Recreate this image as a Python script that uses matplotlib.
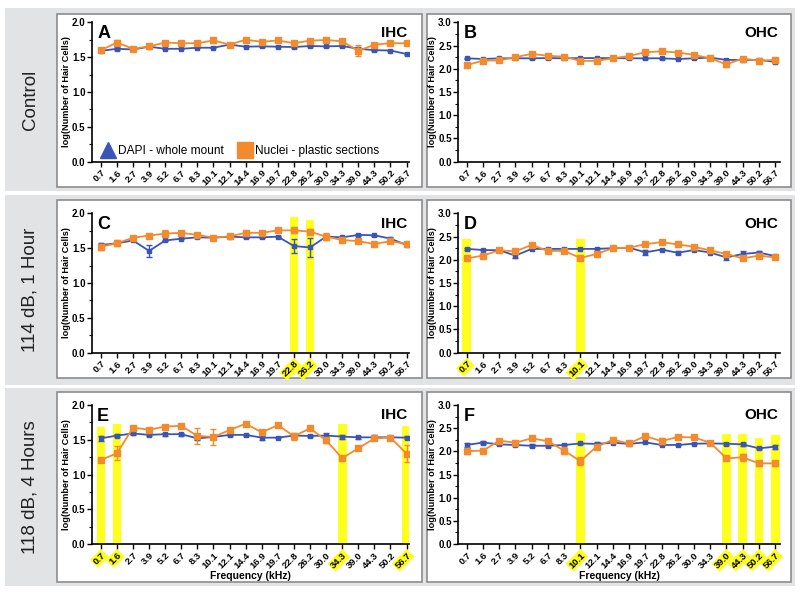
import matplotlib
matplotlib.use("Agg")
import matplotlib.pyplot as plt
from matplotlib.patches import Rectangle
from matplotlib.lines import Line2D
from matplotlib.ticker import MultipleLocator, FormatStrFormatter
import numpy as np

plt.rcParams['font.family'] = ['Liberation Sans', 'DejaVu Sans']

freq_labels = ["0.7", "1.6", "2.7", "3.9", "5.2", "6.7", "8.3", "10.1", "12.1", "14.4",
               "16.9", "19.7", "22.8", "26.2", "30.0", "34.3", "39.0", "44.3", "50.2", "56.7"]

row_labels = ["Control", "114 dB, 1 Hour", "118 dB, 4 Hours"]
panel_letters = ["A", "B", "C", "D", "E", "F"]
cell_types = ["IHC", "OHC"]
series_names = ["DAPI - whole mount", "Nuclei - plastic sections"]

# Panel A (Control, IHC)
A_blue = [1.59, 1.62, 1.61, 1.65, 1.62, 1.62, 1.635, 1.635, 1.68, 1.65, 1.655, 1.65, 1.645, 1.66, 1.655, 1.66, 1.62, 1.60, 1.595, 1.545]
A_blue_err = [0.02, 0.02, 0.01, 0.01, 0.01, 0.01, 0.01, 0.01, 0.01, 0.01, 0.01, 0.01, 0.01, 0.01, 0.01, 0.01, 0.02, 0.01, 0.01, 0.015]
A_orange = [1.60, 1.71, 1.62, 1.655, 1.71, 1.70, 1.70, 1.74, 1.68, 1.75, 1.72, 1.74, 1.70, 1.737, 1.746, 1.727, 1.59, 1.68, 1.70, 1.70]
A_orange_err = [0.03, 0.04, 0.03, 0.02, 0.02, 0.03, 0.03, 0.04, 0.01, 0.03, 0.02, 0.01, 0.03, 0.02, 0.02, 0.03, 0.08, 0.01, 0.03, 0.01]
A_highlight = {}

# Panel B (Control, OHC)
B_blue = [2.225, 2.21, 2.225, 2.225, 2.225, 2.23, 2.225, 2.23, 2.23, 2.23, 2.225, 2.225, 2.225, 2.21, 2.225, 2.24, 2.19, 2.19, 2.19, 2.15]
B_blue_err = [0.01, 0.01, 0.01, 0.01, 0.01, 0.01, 0.01, 0.01, 0.01, 0.01, 0.01, 0.01, 0.01, 0.01, 0.01, 0.01, 0.02, 0.01, 0.01, 0.02]
B_orange = [2.08, 2.175, 2.18, 2.25, 2.32, 2.28, 2.26, 2.17, 2.17, 2.225, 2.275, 2.355, 2.375, 2.35, 2.30, 2.225, 2.095, 2.22, 2.175, 2.19]
B_orange_err = [0.05, 0.02, 0.03, 0.05, 0.02, 0.02, 0.03, 0.03, 0.02, 0.02, 0.02, 0.02, 0.02, 0.02, 0.02, 0.02, 0.05, 0.02, 0.04, 0.02]
B_highlight = {}

# Panel C (114 dB, IHC)
C_blue = [1.545, 1.57, 1.61, 1.46, 1.61, 1.636, 1.655, 1.65, 1.665, 1.655, 1.655, 1.665, 1.53, 1.51, 1.665, 1.655, 1.69, 1.685, 1.636, 1.545]
C_blue_err = [0.03, 0.02, 0.01, 0.08, 0.01, 0.01, 0.01, 0.01, 0.01, 0.01, 0.01, 0.01, 0.10, 0.13, 0.02, 0.01, 0.01, 0.01, 0.02, 0.02]
C_orange = [1.52, 1.57, 1.65, 1.68, 1.71, 1.72, 1.69, 1.65, 1.67, 1.72, 1.72, 1.755, 1.755, 1.737, 1.665, 1.617, 1.60, 1.56, 1.60, 1.56]
C_orange_err = [0.04, 0.04, 0.01, 0.02, 0.05, 0.03, 0.03, 0.01, 0.01, 0.02, 0.02, 0.03, 0.04, 0.04, 0.05, 0.03, 0.02, 0.03, 0.01, 0.02]
C_highlight = {"22.8": 1.94, "26.2": 1.91}

# Panel D (114 dB, OHC)
D_blue = [2.234, 2.21, 2.205, 2.09, 2.234, 2.234, 2.234, 2.234, 2.234, 2.25, 2.26, 2.16, 2.22, 2.15, 2.21, 2.155, 2.05, 2.125, 2.155, 2.08]
D_blue_err = [0.02, 0.01, 0.01, 0.06, 0.01, 0.01, 0.01, 0.01, 0.01, 0.01, 0.01, 0.05, 0.01, 0.03, 0.01, 0.01, 0.05, 0.06, 0.03, 0.01]
D_orange = [2.03, 2.09, 2.205, 2.18, 2.32, 2.19, 2.19, 2.04, 2.125, 2.25, 2.26, 2.335, 2.38, 2.33, 2.28, 2.20, 2.125, 2.03, 2.09, 2.05]
D_orange_err = [0.04, 0.01, 0.02, 0.02, 0.04, 0.03, 0.02, 0.02, 0.04, 0.02, 0.01, 0.02, 0.02, 0.02, 0.03, 0.03, 0.04, 0.03, 0.02, 0.02]
D_highlight = {"0.7": 2.45, "10.1": 2.45}

# Panel E (118 dB, IHC)
E_blue = [1.52, 1.56, 1.59, 1.57, 1.58, 1.58, 1.52, 1.54, 1.57, 1.57, 1.53, 1.53, 1.56, 1.555, 1.56, 1.545, 1.535, 1.535, 1.535, 1.53]
E_blue_err = [0.04, 0.02, 0.02, 0.01, 0.02, 0.02, 0.02, 0.01, 0.02, 0.01, 0.03, 0.01, 0.01, 0.01, 0.03, 0.03, 0.02, 0.03, 0.01, 0.02]
E_orange = [1.21, 1.305, 1.674, 1.645, 1.69, 1.70, 1.555, 1.54, 1.64, 1.73, 1.607, 1.71, 1.55, 1.665, 1.49, 1.235, 1.377, 1.52, 1.53, 1.30]
E_orange_err = [0.03, 0.10, 0.01, 0.03, 0.01, 0.03, 0.12, 0.12, 0.02, 0.02, 0.04, 0.01, 0.05, 0.03, 0.04, 0.03, 0.03, 0.02, 0.01, 0.12]
E_highlight = {"0.7": 1.69, "1.6": 1.72, "34.3": 1.73, "56.7": 1.70}

# Panel F (118 dB, OHC)
F_blue = [2.137, 2.19, 2.15, 2.137, 2.12, 2.12, 2.137, 2.17, 2.16, 2.187, 2.16, 2.194, 2.137, 2.137, 2.165, 2.17, 2.165, 2.15, 2.065, 2.10]
F_blue_err = [0.04, 0.04, 0.01, 0.01, 0.03, 0.03, 0.01, 0.01, 0.04, 0.01, 0.01, 0.01, 0.01, 0.01, 0.01, 0.01, 0.02, 0.03, 0.01, 0.04]
F_orange = [2.007, 2.014, 2.23, 2.187, 2.28, 2.22, 2.014, 1.79, 2.10, 2.25, 2.17, 2.33, 2.22, 2.31, 2.30, 2.187, 1.85, 1.87, 1.74, 1.74]
F_orange_err = [0.07, 0.05, 0.02, 0.01, 0.01, 0.03, 0.07, 0.08, 0.02, 0.02, 0.03, 0.01, 0.06, 0.01, 0.01, 0.01, 0.04, 0.07, 0.06, 0.06]
F_highlight = {"10.1": 2.39, "39.0": 2.37, "44.3": 2.37, "50.2": 2.28, "56.7": 2.35}

panels = [
    (A_blue, A_blue_err, A_orange, A_orange_err, A_highlight),
    (B_blue, B_blue_err, B_orange, B_orange_err, B_highlight),
    (C_blue, C_blue_err, C_orange, C_orange_err, C_highlight),
    (D_blue, D_blue_err, D_orange, D_orange_err, D_highlight),
    (E_blue, E_blue_err, E_orange, E_orange_err, E_highlight),
    (F_blue, F_blue_err, F_orange, F_orange_err, F_highlight),
]

BLUE = "#3a55b6"
ORANGE = "#f28a2e"
YELLOW = "#ffff1e"
BAND = "#e1e3e5"
BORDER = "#8c8c8c"

W, H = 800, 592
fig = plt.figure(figsize=(8, 5.92), dpi=100)
fig.patch.set_facecolor("white")


def px_rect(x0, y0, x1, y1, **kw):
    r = Rectangle((x0 / W, 1 - y1 / H), (x1 - x0) / W, (y1 - y0) / H,
                  transform=fig.transFigure, **kw)
    fig.add_artist(r)
    return r


bands = [(8, 191), (195, 385), (388, 586)]
boxes_y = [(14, 187), (200, 378), (392, 582)]
for (b0, b1), (y0, y1), lab in zip(bands, boxes_y, row_labels):
    px_rect(5, b0, 795, b1, facecolor=BAND, edgecolor="none", zorder=-10)
    px_rect(57, y0, 422, y1, facecolor="white", edgecolor=BORDER, lw=1.2, zorder=-9)
    px_rect(427, y0, 791, y1, facecolor="white", edgecolor=BORDER, lw=1.2, zorder=-9)
    fig.text(30 / W, 1 - ((b0 + b1) / 2) / H, lab, rotation=90, ha="center", va="center",
             fontsize=13.5, color="#222222")

axes_y = [(22.3, 161.7), (213.3, 352.7), (405, 544)]
axes_x = [(92, 409, (-0.55, 19.15)), (458.3, 780, (-0.52, 19.3))]

x = np.arange(len(freq_labels))
for i, (blue, berr, orange, oerr, hl) in enumerate(panels):
    row, col = divmod(i, 2)
    ytop, ybot = axes_y[row]
    xl, xr, xlim = axes_x[col]
    ax = fig.add_axes([xl / W, 1 - ybot / H, (xr - xl) / W, (ybot - ytop) / H])
    ax.set_facecolor("none")
    ymax = 2.0 if col == 0 else 3.0
    ax.set_ylim(0, ymax)
    ax.set_xlim(*xlim)
    for lab_, top in hl.items():
        idx = freq_labels.index(lab_)
        ax.bar(x[idx], top, width=0.54, color=YELLOW, zorder=0, edgecolor="none")
    ax.errorbar(x, blue, yerr=berr, color=BLUE, marker="s", ms=3.2, lw=1.3,
                capsize=2.5, elinewidth=1.0, capthick=1.0, zorder=3)
    ax.errorbar(x, orange, yerr=oerr, color=ORANGE, marker="s", ms=4, lw=1.3,
                capsize=2.5, elinewidth=1.0, capthick=1.0, zorder=4)
    for s in ("top", "right"):
        ax.spines[s].set_visible(False)
    for s in ("left", "bottom"):
        ax.spines[s].set_linewidth(1.2)
        ax.spines[s].set_color("black")
    ax.yaxis.set_major_locator(MultipleLocator(0.5))
    ax.yaxis.set_minor_locator(MultipleLocator(0.25))
    ax.yaxis.set_major_formatter(FormatStrFormatter("%.1f"))
    ax.set_xticks(x)
    ax.set_xticklabels(freq_labels, rotation=45, ha="right", rotation_mode="anchor",
                       fontsize=6.8, fontweight="bold")
    ax.tick_params(axis="both", which="major", length=3.5, width=1.0, pad=1.2)
    ax.tick_params(axis="y", which="minor", length=2, width=0.8)
    ax.tick_params(axis="y", labelsize=7)
    for t in ax.get_yticklabels():
        t.set_fontweight("bold")
    for t in ax.get_xticklabels():
        if t.get_text() in hl:
            t.set_bbox(dict(facecolor=YELLOW, edgecolor="none", pad=0.8))
    ax.set_ylabel("log(Number of Hair Cells)", fontsize=6.6, fontweight="bold", labelpad=0.5)
    if row == 2:
        ax.set_xlabel("Frequency (kHz)", fontsize=7.5, fontweight="bold", labelpad=0.5)
    ax.text(0.016, 0.98, panel_letters[i], transform=ax.transAxes, fontsize=13,
            fontweight="bold", ha="left", va="top")
    ax.text(0.994, 0.975, cell_types[col], transform=ax.transAxes, fontsize=11,
            fontweight="bold", ha="right", va="top")
    if i == 0:
        handles = [Line2D([], [], color=BLUE, marker="^", ls="none", ms=11),
                   Line2D([], [], color=ORANGE, marker="s", ls="none", ms=11)]
        ax.legend(handles, series_names, ncol=2, frameon=False, loc="lower left",
                  bbox_to_anchor=(-0.005, -0.045), fontsize=8.6, handletextpad=0.25,
                  columnspacing=1.1, handlelength=1.2)

fig.savefig("out.png", dpi=100)
